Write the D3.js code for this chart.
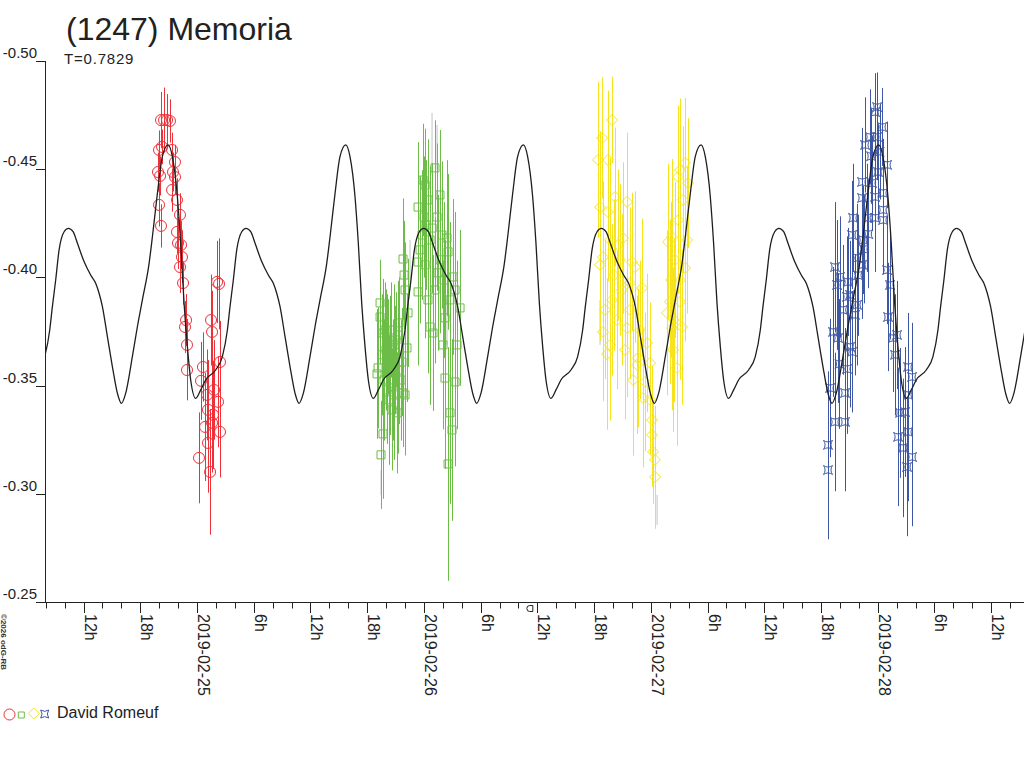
<!DOCTYPE html>
<html><head><meta charset="utf-8">
<script src="https://cdn.jsdelivr.net/npm/d3@7/dist/d3.min.js"></script>
<style>html,body{margin:0;padding:0;background:#fff;}svg{display:block;font-family:"Liberation Sans",Arial,sans-serif;}</style>
</head><body>
<svg id="chart" width="1024" height="768"></svg>
<script>
// ---------- DATA ----------
const TITLE = "(1247) Memoria";
const PERIOD_LABEL = "T=0.7829";
const OBSERVER = "David Romeuf";
const COPYRIGHT = "©2026 odG-RB";
const BASE_DATE = Date.UTC(2019, 1, 25, 0, 0); // hours below are relative to 2019-02-25 00:00 UT
const X_START_H = -16.08, X_END_H = 87.47;
const Y_TICKS = [-0.50, -0.45, -0.40, -0.35, -0.30, -0.25];
const Y_TICK_LABELS = ["-0.50", "-0.45", "-0.40", "-0.35", "-0.30", "-0.25"];
const PERIOD_DAYS = 0.7829;
const CURVE_EPOCH_H = 3.49;
// one rotation of the model curve: hours after epoch, magnitude
const CURVE_HOURS = [0,0.35,0.71,1.24,1.69,2.19,2.64,3.35,4.05,4.58,4.94,5.29,5.82,6.35,6.88,7.30,7.75,8.46,8.99,9.52,10.23,10.58,11.11,11.63,12.24,12.69,13.22,13.57,13.93,14.28,14.63,15.16,15.69,16.21,17.27,17.98,18.51];
const CURVE_MAG = [-0.3865,-0.3988,-0.4127,-0.4211,-0.4227,-0.4211,-0.4159,-0.4073,-0.4011,-0.3973,-0.3927,-0.3865,-0.3726,-0.3587,-0.3464,-0.3418,-0.3464,-0.3634,-0.3772,-0.3896,-0.4065,-0.4188,-0.4389,-0.4558,-0.4612,-0.4558,-0.4373,-0.4158,-0.3880,-0.3680,-0.3526,-0.3441,-0.3480,-0.3526,-0.3572,-0.3634,-0.3757];

// [hours, mag, err]
const NIGHT1 = [[-4.02,-0.4589,0.009],[-3.81,-0.4727,0.013],[-3.49,-0.4727,0.015],[-3.17,-0.4727,0.012],[-2.86,-0.4723,0.010],[-3.70,-0.4603,0.008],[-4.13,-0.4487,0.009],[-3.91,-0.4469,0.009],[-4.02,-0.4335,0.010],[-3.81,-0.4238,0.010],[-2.64,-0.4589,0.008],[-2.33,-0.4533,0.008],[-2.54,-0.4487,0.009],[-2.33,-0.4464,0.008],[-2.64,-0.4404,0.010],[-2.12,-0.4358,0.010],[-1.80,-0.4289,0.010],[-2.12,-0.4210,0.010],[-2.01,-0.4159,0.012],[-1.69,-0.4150,0.011],[-1.59,-0.4094,0.012],[-1.80,-0.4048,0.012],[-1.48,-0.3974,0.010],[-1.16,-0.3803,0.012],[-1.27,-0.3771,0.012],[-1.06,-0.3688,0.012],[-1.06,-0.3572,0.014],[2.12,-0.3979,0.019],[2.33,-0.3970,0.021],[1.48,-0.3803,0.021],[1.59,-0.3748,0.019],[2.43,-0.3609,0.019],[0.63,-0.3586,0.016],[0.42,-0.3522,0.018],[2.22,-0.3425,0.021],[1.16,-0.3388,0.023],[0.85,-0.3309,0.025],[1.59,-0.3328,0.023],[2.43,-0.3286,0.021],[1.16,-0.3235,0.023],[0.21,-0.3166,0.021],[1.38,-0.3101,0.029],[1.69,-0.3365,0.025],[1.80,-0.3480,0.023],[1.06,-0.3457,0.021]];
const NIGHT2 = [[19.36,-0.3882,0.020],[19.36,-0.3817,0.022],[19.15,-0.3582,0.028],[19.04,-0.3554,0.030],[19.67,-0.3743,0.025],[19.89,-0.3757,0.022],[20.10,-0.3642,0.028],[20.41,-0.3665,0.025],[20.84,-0.3688,0.028],[21.05,-0.3711,0.022],[21.26,-0.3734,0.025],[21.37,-0.3790,0.021],[21.90,-0.4011,0.025],[21.79,-0.4085,0.028],[22.00,-0.3942,0.022],[22.32,-0.3836,0.025],[21.68,-0.3609,0.025],[21.16,-0.3374,0.028],[19.67,-0.3277,0.030],[19.46,-0.3180,0.025],[19.99,-0.3665,0.028],[20.41,-0.3572,0.030],[20.73,-0.3526,0.028],[20.31,-0.3434,0.030],[20.63,-0.3388,0.028],[20.94,-0.3619,0.025],[19.78,-0.3526,0.028],[20.20,-0.3679,0.022],[21.37,-0.3572,0.025],[21.58,-0.3526,0.028],[22.00,-0.3457,0.028],[20.52,-0.3757,0.022],[20.84,-0.3457,0.030],[21.79,-0.3466,0.025],[20.10,-0.3480,0.025],[21.26,-0.3466,0.028],[22.21,-0.3674,0.025],[19.57,-0.3642,0.028],
[23.38,-0.4325,0.030],[23.91,-0.4450,0.026],[24.12,-0.4427,0.026],[25.17,-0.4506,0.022],[25.70,-0.4381,0.030],[25.39,-0.4279,0.034],[23.59,-0.4127,0.034],[23.38,-0.4071,0.030],[24.12,-0.4058,0.034],[23.38,-0.3933,0.034],[24.86,-0.4228,0.030],[26.44,-0.4182,0.036],[26.55,-0.4118,0.036],[25.70,-0.4081,0.034],[25.49,-0.4021,0.036],[27.08,-0.4002,0.036],[27.82,-0.3859,0.036],[24.65,-0.3771,0.036],[24.96,-0.3743,0.036],[26.02,-0.3688,0.039],[26.23,-0.3813,0.036],[27.50,-0.3688,0.039],[26.23,-0.3535,0.042],[27.29,-0.3517,0.039],[26.76,-0.3374,0.042],[26.97,-0.3295,0.042],[26.55,-0.3138,0.054],[24.43,-0.4358,0.028],[24.65,-0.4173,0.034],[24.22,-0.4242,0.030],[25.91,-0.4196,0.034],[26.13,-0.3988,0.036],[26.76,-0.3896,0.036],[27.29,-0.3942,0.036],[25.17,-0.3942,0.034],[24.43,-0.3896,0.034],[23.80,-0.4196,0.030],[24.01,-0.4279,0.028]];
const NIGHT3 = [[43.90,-0.4727,0.020],[42.84,-0.4644,0.028],[42.42,-0.4543,0.036],[43.47,-0.4543,0.032],[44.21,-0.4372,0.032],[45.48,-0.4349,0.032],[42.63,-0.4325,0.035],[43.47,-0.4302,0.032],[45.06,-0.4182,0.035],[44.53,-0.4150,0.035],[42.94,-0.4094,0.035],[42.63,-0.4058,0.035],[46.33,-0.4048,0.035],[46.01,-0.4071,0.032],[47.07,-0.3951,0.032],[45.80,-0.3974,0.035],[43.16,-0.3850,0.032],[45.48,-0.3766,0.032],[42.94,-0.3748,0.032],[43.37,-0.3646,0.035],[46.54,-0.3596,0.032],[47.60,-0.3697,0.032],[47.92,-0.3605,0.028],[46.12,-0.3526,0.035],[47.39,-0.3517,0.032],[46.65,-0.3628,0.032],[47.18,-0.3443,0.032],[48.13,-0.3272,0.024],[48.23,-0.3194,0.024],[48.44,-0.3078,0.024],[43.69,-0.4173,0.038],[44.11,-0.4011,0.035],[44.74,-0.4081,0.035],[43.90,-0.3896,0.035],[44.43,-0.3803,0.032],[44.96,-0.3942,0.035],[45.27,-0.3665,0.032],[45.80,-0.3850,0.032],[46.86,-0.3757,0.032],[43.69,-0.3688,0.035],[47.92,-0.3434,0.025],[48.13,-0.3341,0.025],[48.44,-0.3157,0.025],
[49.82,-0.4164,0.036],[50.24,-0.4187,0.036],[51.83,-0.4173,0.034],[51.62,-0.4529,0.030],[51.09,-0.4496,0.033],[51.94,-0.4436,0.030],[50.88,-0.4464,0.033],[49.71,-0.3836,0.038],[50.03,-0.3887,0.038],[51.09,-0.3887,0.036],[51.30,-0.3771,0.036],[50.35,-0.3665,0.038],[50.77,-0.3582,0.036],[50.24,-0.3766,0.038],[51.62,-0.4044,0.034],[50.56,-0.4081,0.036],[50.88,-0.4265,0.034],[51.41,-0.4358,0.034],[51.09,-0.3988,0.034],[50.45,-0.3803,0.038],[50.14,-0.3988,0.036]];
const NIGHT4 = [[71.93,-0.4787,0.016],[71.72,-0.4764,0.018],[72.46,-0.4695,0.018],[70.66,-0.4612,0.022],[71.19,-0.4649,0.022],[71.93,-0.4649,0.020],[72.99,-0.4520,0.020],[72.03,-0.4487,0.022],[70.34,-0.4441,0.025],[71.40,-0.4436,0.022],[71.72,-0.4372,0.025],[72.56,-0.4390,0.025],[70.34,-0.4367,0.025],[70.87,-0.4275,0.025],[71.72,-0.4275,0.025],[72.56,-0.4312,0.025],[72.56,-0.4265,0.025],[69.39,-0.4275,0.025],[69.28,-0.4196,0.025],[70.45,-0.4173,0.025],[69.81,-0.4090,0.025],[70.34,-0.4058,0.025],[67.48,-0.4048,0.030],[72.99,-0.4034,0.025],[68.01,-0.4002,0.028],[68.86,-0.3979,0.025],[73.30,-0.3965,0.025],[67.70,-0.3965,0.030],[69.07,-0.3919,0.025],[69.81,-0.3873,0.028],[73.09,-0.3817,0.025],[67.27,-0.3748,0.030],[67.80,-0.3720,0.030],[69.28,-0.3656,0.028],[74.04,-0.3734,0.025],[68.75,-0.3910,0.028],[69.60,-0.3827,0.028],[69.07,-0.3679,0.028],[68.75,-0.3577,0.030],[66.96,-0.3489,0.032],[68.54,-0.3466,0.030],[67.48,-0.3332,0.032],[68.54,-0.3332,0.032],[66.74,-0.3226,0.034],[66.74,-0.3110,0.032],[73.62,-0.3720,0.025],[73.83,-0.3642,0.028],[75.21,-0.3586,0.025],[75.63,-0.3540,0.025],[75.21,-0.3457,0.028],[74.89,-0.3378,0.030],[75.21,-0.3286,0.032],[74.68,-0.3212,0.032],[75.63,-0.3170,0.032],[75.10,-0.3124,0.032],[74.15,-0.3263,0.032],[74.36,-0.3374,0.030],[69.92,-0.4010,0.028],[70.55,-0.4130,0.025],[71.00,-0.4200,0.025],[71.30,-0.4560,0.022],[72.20,-0.4580,0.022],[68.30,-0.3850,0.030],[67.95,-0.3600,0.030]];
// faint grey error bars: [hours, top mag, bottom mag]
const GREY_BARS = [[24.86,-0.4760,-0.4473],[25.39,-0.4704,-0.4496],[22.53,-0.4173,-0.3942],[19.46,-0.3110,-0.2995],[42.63,-0.3896,-0.3688],[48.66,-0.2995,-0.2856],[26.44,-0.3896,-0.3688]];
const MARK_H = 35.2; // small marker under the axis
const SERIES_COLORS = ["#ee3038", "#6cbd48", "#f6e31c", "#3e57a5"];
const SERIES_SHAPES = ["circle", "square", "diamond", "star"];

// ---------- DRAW ----------
const svg = d3.select("#chart");
const FONT_COLOR = "#222";
const hToDate = h => new Date(BASE_DATE + h * 3600e3);
const x = d3.scaleUtc().domain([hToDate(X_START_H), hToDate(X_END_H)]).range([45, 1024]);
const y = d3.scaleLinear().domain([-0.50, -0.25]).range([61, 602]);

svg.append("rect").attr("width", 1024).attr("height", 768).attr("fill", "#fff");
svg.append("defs").append("clipPath").attr("id", "plot").append("rect")
  .attr("x", 45).attr("y", 40).attr("width", 979).attr("height", 562);

// title
svg.append("text").attr("x", 66).attr("y", 40).attr("font-size", 32).attr("fill", FONT_COLOR).text(TITLE);
svg.append("text").attr("x", 64).attr("y", 64).attr("font-size", 15).attr("letter-spacing", 0.8).attr("fill", FONT_COLOR).text(PERIOD_LABEL);

// shapes
function shapePath(kind, s) {
  if (kind === "circle") return d3.symbol().type(d3.symbolCircle).size(Math.PI * s * s)();
  if (kind === "square") return `M${-s},${-s}H${s}V${s}H${-s}Z`;
  if (kind === "diamond") return `M0,${-s}L${s},0L0,${s}L${-s},0Z`;
  const q = s * 0.3;
  return `M${-s},${-s}Q0,${-q} ${s},${-s}Q${q},0 ${s},${s}Q0,${q} ${-s},${s}Q${-q},0 ${-s},${-s}Z`;
}
const SHAPE_SIZE = { circle: 5.5, square: 4, diamond: 5.5, star: 4.5 };

const plot = svg.append("g").attr("clip-path", "url(#plot)");

// grey bars
plot.append("g").selectAll("line").data(GREY_BARS).join("line")
  .attr("x1", d => x(hToDate(d[0]))).attr("x2", d => x(hToDate(d[0])))
  .attr("y1", d => y(d[1])).attr("y2", d => y(d[2]))
  .attr("stroke", "#c4c4c4").attr("stroke-width", 1);

[NIGHT1, NIGHT2, NIGHT3, NIGHT4].forEach((data, i) => {
  const g = plot.append("g");
  const col = SERIES_COLORS[i];
  g.selectAll("line").data(data).join("line")
    .attr("x1", d => Math.round(x(hToDate(d[0]))) + 0.5).attr("x2", d => Math.round(x(hToDate(d[0]))) + 0.5)
    .attr("y1", d => y(d[1] - d[2])).attr("y2", d => y(d[1] + d[2]))
    .attr("stroke", col).attr("stroke-width", 1);
  g.selectAll("path").data(data).join("path")
    .attr("transform", d => `translate(${x(hToDate(d[0]))},${y(d[1])})`)
    .attr("d", shapePath(SERIES_SHAPES[i], SHAPE_SIZE[SERIES_SHAPES[i]]))
    .attr("fill", "none").attr("stroke", col).attr("stroke-width", 1);
});

// model curve (one rotation repeated with period T)
const periodH = PERIOD_DAYS * 24;
const curvePts = [];
for (let k = -3; k <= 6; k++) {
  CURVE_HOURS.forEach((hh, i) => {
    const h = CURVE_EPOCH_H + k * periodH + hh;
    if (h > X_START_H - 20 && h < X_END_H + 20) curvePts.push([h, CURVE_MAG[i]]);
  });
}
plot.append("path").datum(curvePts)
  .attr("d", d3.line().x(d => x(hToDate(d[0]))).y(d => y(d[1])).curve(d3.curveMonotoneX))
  .attr("fill", "none").attr("stroke", "#1e1e1e").attr("stroke-width", 1.3);

// y axis
const axisCol = "#222";
svg.append("line").attr("x1", 45.5).attr("x2", 45.5).attr("y1", 61).attr("y2", 602.5).attr("stroke", axisCol);
Y_TICKS.forEach((v, i) => {
  const yy = Math.round(y(v)) + 0.5;
  svg.append("line").attr("x1", 36).attr("x2", 45.5).attr("y1", yy).attr("y2", yy).attr("stroke", axisCol);
  svg.append("text").attr("x", 37).attr("y", yy - 4).attr("text-anchor", "end")
    .attr("font-size", 15).attr("fill", FONT_COLOR).text(Y_TICK_LABELS[i]);
});

// x axis
svg.append("line").attr("x1", 45).attr("x2", 1024).attr("y1", 602.5).attr("y2", 602.5).attr("stroke", axisCol);
const ticks = x.ticks(d3.utcHour.every(2));
ticks.forEach(t => {
  const xx = Math.round(x(t)) + 0.5;
  const hr = t.getUTCHours();
  const major = hr % 6 === 0;
  svg.append("line").attr("x1", xx).attr("x2", xx).attr("y1", 602.5).attr("y2", major ? 613 : 608.5).attr("stroke", axisCol);
  if (major) {
    const lab = hr === 0 ? d3.utcFormat("%Y-%m-%d")(t) : hr + "h";
    svg.append("text").attr("transform", `translate(${xx + 0.5},614) rotate(90)`)
      .attr("font-size", 16).attr("fill", FONT_COLOR).text(lab);
  }
});
// small marker
const mx = x(hToDate(MARK_H));
svg.append("path").attr("d", `M${mx + 3},605.5 L${mx},605.5 A3,3 0 0 0 ${mx},611.5 L${mx + 3},611.5 Z`)
  .attr("fill", "none").attr("stroke", axisCol).attr("stroke-width", 1);

// copyright
svg.append("text").attr("transform", "translate(1,614) rotate(90)")
  .attr("font-size", 8).attr("font-weight", "bold").attr("fill", "#333").text(COPYRIGHT);

// legend
const legendPos = [[9.5, 714.5, 5.5], [21.3, 715, 3], [33.8, 713.5, 5.5], [44.7, 714, 4]];
legendPos.forEach((p, i) => {
  svg.append("path").attr("transform", `translate(${p[0]},${p[1]})`)
    .attr("d", shapePath(SERIES_SHAPES[i], p[2]))
    .attr("fill", "none").attr("stroke", SERIES_COLORS[i]).attr("stroke-width", 1);
});
svg.append("text").attr("x", 57).attr("y", 718).attr("font-size", 16).attr("fill", FONT_COLOR).text(OBSERVER);
</script>
</body></html>
